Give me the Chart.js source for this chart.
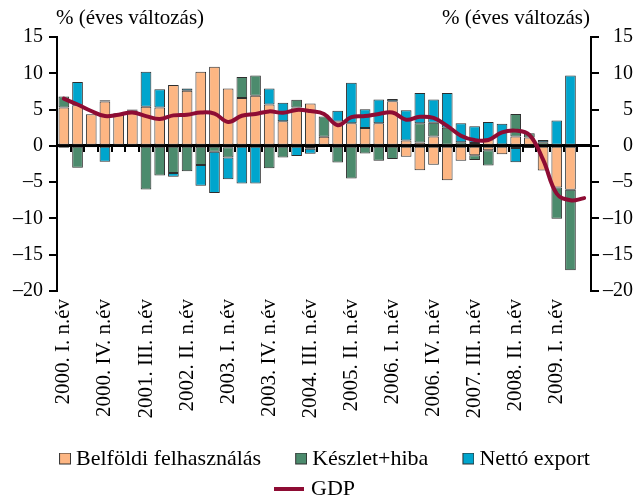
<!DOCTYPE html>
<html>
<head>
<meta charset="utf-8">
<script src="https://cdn.jsdelivr.net/npm/chart.js@4.4.0/dist/chart.umd.min.js"></script>
<style>
  html, body { margin: 0; padding: 0; background: #fff; }
</style>
</head>
<body>
<canvas id="gdpChart" width="635" height="497"></canvas>
<script>
// ── Data (quarterly, 2000 Q1 – 2009 Q3) ─────────────────────────
const quarters = [
  '2000. I. n.év', '2000. II. n.év', '2000. III. n.év', '2000. IV. n.év',
  '2001. I. n.év', '2001. II. n.év', '2001. III. n.év', '2001. IV. n.év',
  '2002. I. n.év', '2002. II. n.év', '2002. III. n.év', '2002. IV. n.év',
  '2003. I. n.év', '2003. II. n.év', '2003. III. n.év', '2003. IV. n.év',
  '2004. I. n.év', '2004. II. n.év', '2004. III. n.év', '2004. IV. n.év',
  '2005. I. n.év', '2005. II. n.év', '2005. III. n.év', '2005. IV. n.év',
  '2006. I. n.év', '2006. II. n.év', '2006. III. n.év', '2006. IV. n.év',
  '2007. I. n.év', '2007. II. n.év', '2007. III. n.év', '2007. IV. n.év',
  '2008. I. n.év', '2008. II. n.év', '2008. III. n.év', '2008. IV. n.év',
  '2009. I. n.év', '2009. II. n.év', '2009. III. n.év'
];

// domestic use comes in two orange pieces (the second one only where it crosses zero)
const belfoldi = [5.3, 5.6, 4.35, 6.1, 4.5, 4.85, 5.4, 5.3, 8.4, 7.6, 10.2, 10.9, 7.9,
  6.6, 6.9, 5.7, 3.4, 5.3, 5.85, 1.25, 3.35, 3.1, 2.45, 3.1, 6.15, 0.75, 0.45,
  1.3, -4.75, -2.05, 0.4, 0.9, 0.2, 1.3, 1.15, 0.15, -5.75, -6.05, null];
const belfoldi2 = [null, null, null, null, null, null, null, null, null, null, null, null, -0.2,
  null, null, null, null, null, null, null, null, null, null, null, null, -1.5, -3.35,
  -2.6, null, null, -1.3, -0.6, -1.15, -0.3, -0.3, -3.4, null, null, null];
const keszlet = [1.5, -3.0, -0.2, 0.2, null, 0.15, -6.0, -4.1, -3.75, -3.5, -2.65, -0.8, -1.4,
  2.9, 2.8, -3.1, -1.6, 1.05, -0.4, 2.8, -2.3, -4.5, -1.05, -2.05, -1.8, null, 2.65,
  1.9, 2.5, 0.5, -0.65, -2.1, null, 3.1, 0.6, 0.35, -4.3, -11.1, null];
const netto = [-0.25, 3.2, null, -2.2, null, null, 4.8, 2.5, -0.5, 0.3, -2.85, -5.7, -3.0,
  -5.2, -5.2, 2.2, 2.55, -1.4, -0.7, null, 1.5, 5.6, 2.6, 3.3, 0.3, 4.15, 4.2,
  3.2, 4.8, 2.6, 2.3, 2.4, 2.85, -1.95, null, 0.3, 3.5, 9.7, null];
const gdp = [6.5, 5.7, 4.8, 4.1, 4.3, 4.6, 4.1, 3.7, 4.2, 4.3, 4.6, 4.45, 3.3,
  4.15, 4.4, 4.75, 4.55, 4.95, 4.8, 4.4, 2.85, 3.95, 4.1, 4.4, 4.6, 3.6, 4.0,
  3.85, 2.75, 1.4, 0.8, 0.8, 1.85, 2.1, 1.5, -1.9, -6.6, -7.5, -7.2];

const UNIT = '% (éves változás)';

// ── Colours / fonts ─────────────────────────────────────────────
const ORANGE = '#fdb683';
const GREEN  = '#4c8b6d';
const BLUE   = '#00a5cd';
const RED    = '#8e0c34';
const EDGE   = '#2e2e2e';
const SERIF  = "'Liberation Serif', 'Times New Roman', serif";

// ── Legend marks (square swatch / short line right next to the text) ──
const BOX_W = 32;
const makeSwatch = (fill) => {
  const c = document.createElement('canvas');
  c.width = BOX_W + 12; c.height = 13;
  const g = c.getContext('2d');
  g.fillStyle = fill;
  g.fillRect(BOX_W + 0.5, 0.5, 11, 11);
  g.strokeStyle = EDGE; g.lineWidth = 1;
  g.strokeRect(BOX_W + 0.5, 0.5, 11, 11);
  return c;
};
const makeLineMark = (color) => {
  const c = document.createElement('canvas');
  c.width = BOX_W + 12; c.height = 4;
  const g = c.getContext('2d');
  g.fillStyle = color;
  g.fillRect(BOX_W - 20, 0, 30, 4);
  return c;
};

// ── Two horizontal unit labels above the axes ───────────────────
const unitTitles = {
  id: 'unitTitles',
  afterDraw(chart) {
    const { ctx, chartArea } = chart;
    ctx.save();
    ctx.font = `21px ${SERIF}`;
    ctx.fillStyle = '#000';
    ctx.textBaseline = 'middle';
    ctx.textAlign = 'left';
    ctx.fillText(UNIT, chartArea.left - 1, 18);
    ctx.textAlign = 'right';
    ctx.fillText(UNIT, chartArea.right - 1, 18);
    ctx.restore();
  }
};

const minusDash = (v) => String(v).replace('-', '\u2013');

const barSet = (label, data, color) => ({
  type: 'bar',
  label,
  data,
  backgroundColor: color,
  borderColor: EDGE,
  borderWidth: 1,
  borderSkipped: false,
  barPercentage: 0.78,
  categoryPercentage: 1,
  stack: 'gdp',
  order: 1
});

const yAxis = (position, width, pad, crossAlign) => ({
  type: 'linear',
  position,
  min: -20,
  max: 15,
  ticks: {
    stepSize: 5,
    color: '#000',
    padding: pad,
    crossAlign,
    font: { family: SERIF, size: 20 },
    callback: minusDash
  },
  grid: { drawOnChartArea: false, drawTicks: true, tickLength: 8, color: '#000', lineWidth: 2 },
  border: { color: '#000', width: 2 },
  afterFit: (s) => { s.width = width; }
});

new Chart(document.getElementById('gdpChart'), {
  data: {
    labels: quarters,
    datasets: [
      barSet('Belföldi felhasználás', belfoldi, ORANGE),
      barSet('Belföldi felhasználás', belfoldi2, ORANGE),
      barSet('Készlet+hiba', keszlet, GREEN),
      barSet('Nettó export', netto, BLUE),
      {
        type: 'line',
        label: 'GDP',
        data: gdp,
        borderColor: RED,
        borderWidth: 4,
        pointRadius: 0,
        tension: 0.4,
        borderCapStyle: 'round',
        borderJoinStyle: 'round',
        fill: false,
        order: 0
      }
    ]
  },
  options: {
    responsive: false,
    animation: false,
    layout: { padding: { top: 37, left: -10, right: 2, bottom: -13 } },
    scales: {
      x: {
        type: 'category',
        stacked: true,
        position: { y: 0 },
        offset: true,
        z: 1,
        ticks: { display: false },
        grid: { offset: true, drawOnChartArea: false, drawTicks: true, tickLength: 5, color: '#000', lineWidth: 2 },
        border: { color: '#000', width: 3 }
      },
      xl: {
        type: 'category',
        position: 'bottom',
        offset: true,
        grid: { display: false, drawTicks: false },
        border: { display: false },
        ticks: {
          autoSkip: false,
          minRotation: 90,
          maxRotation: 90,
          padding: 8,
          color: '#000',
          font: { family: SERIF, size: 21 },
          callback: (v, i) => (i % 3 === 0 ? quarters[i] : '')
        },
        afterFit: (s) => { s.height = 149; }
      },
      y: { ...yAxis('left', 67, 6, 'near'), stacked: true },
      y2: yAxis('right', 42, 4, 'far')
    },
    plugins: {
      tooltip: { enabled: false },
      legend: {
        position: 'bottom',
        labels: {
          usePointStyle: true,
          pointStyleWidth: BOX_W,
          padding: 8,
          color: '#000',
          font: { family: SERIF, size: 22 },
          generateLabels: () => [
            { text: 'Belföldi felhasználás', pointStyle: makeSwatch(ORANGE), datasetIndex: 0, lineWidth: 0 },
            { text: 'Készlet+hiba', pointStyle: makeSwatch(GREEN), datasetIndex: 2, lineWidth: 0 },
            { text: 'Nettó export', pointStyle: makeSwatch(BLUE), datasetIndex: 3, lineWidth: 0 },
            { text: 'GDP', pointStyle: makeLineMark(RED), datasetIndex: 4, lineWidth: 0 }
          ]
        }
      }
    }
  },
  plugins: [unitTitles]
});
</script>
</body>
</html>
